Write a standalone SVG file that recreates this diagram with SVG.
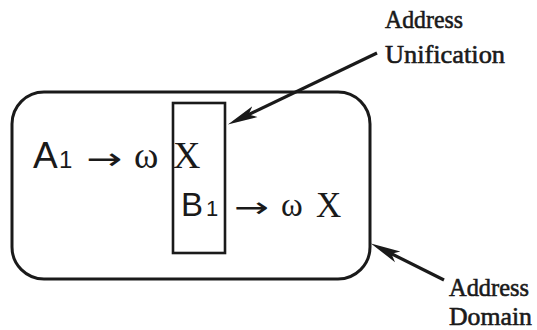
<svg xmlns="http://www.w3.org/2000/svg" width="537" height="330" viewBox="0 0 537 330">
<style>
.shape{fill:none;stroke:#1a1a1a}
.sans{font-family:"Liberation Sans",Arial,sans-serif;fill:#1a1a1a}
.serif{font-family:"Liberation Serif","Times New Roman",serif;fill:#1a1a1a}
.arr{font-family:"DejaVu Sans",sans-serif;fill:#1a1a1a}
.lbl{font-family:"Liberation Serif","Times New Roman",serif;font-size:26px;fill:#1a1a1a;stroke:#1a1a1a;stroke-width:0.6}
.conn{stroke:#1a1a1a;stroke-width:3.2;fill:none}
</style>
<defs>
<marker id="ah" markerUnits="userSpaceOnUse" markerWidth="34" markerHeight="14" viewBox="0 -7 34 14" refX="16" refY="0" orient="auto">
<path d="M30,0 L0,-6 L7,0 L0,6 Z" fill="#1a1a1a"/>
</marker>
</defs>
<rect width="537" height="330" fill="#ffffff"/>
<g id="address-domain">
<rect class="shape" x="12" y="92" width="358" height="187" rx="32" ry="32" stroke-width="3"/>
<text class="sans" x="33" y="168" font-size="37">A</text>
<text class="sans" x="59" y="168" font-size="24">1</text>
<text class="arr" x="86" y="169" font-size="30" textLength="36" lengthAdjust="spacingAndGlyphs">→</text>
<text class="serif" x="134" y="168" font-size="37">ω</text>
<text class="serif" x="173" y="168" font-size="38">X</text>
<text class="lbl" x="449" y="296" textLength="80" lengthAdjust="spacingAndGlyphs">Address</text>
<text class="lbl" x="449" y="325" font-size="25" textLength="83" lengthAdjust="spacingAndGlyphs">Domain</text>
</g>
<g id="address-unification">
<rect class="shape" x="173" y="103" width="52" height="150" stroke-width="2.6"/>
<text class="sans" x="181" y="216" font-size="33">B</text>
<text class="sans" x="206" y="216" font-size="22">1</text>
<text class="arr" x="234" y="217" font-size="28" textLength="35" lengthAdjust="spacingAndGlyphs">→</text>
<text class="serif" x="281" y="216" font-size="33">ω</text>
<text class="serif" x="316" y="217" font-size="35">X</text>
<text class="lbl" x="385" y="28" textLength="78" lengthAdjust="spacingAndGlyphs">Address</text>
<text class="lbl" x="385" y="63" textLength="120" lengthAdjust="spacingAndGlyphs">Unification</text>
</g>
<g id="connectors">
<line class="conn" x1="377" y1="53" x2="240.5" y2="118.5" marker-end="url(#ah)"/>
<line class="conn" x1="444" y1="280" x2="383.4" y2="249.7" marker-end="url(#ah)"/>
</g>
</svg>
